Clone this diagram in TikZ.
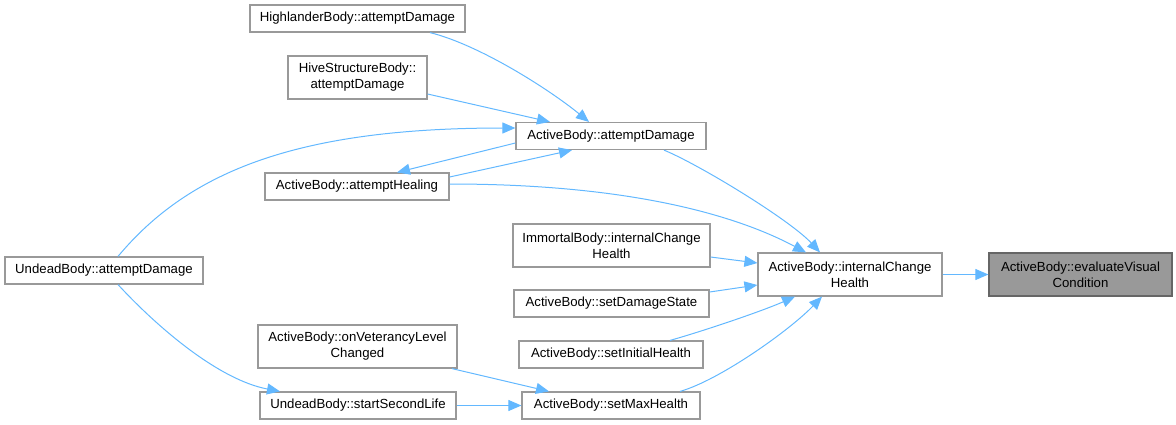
\documentclass[tikz,border=0pt]{standalone}
\usepackage{fontspec}
\setmainfont{Liberation Sans}
\usetikzlibrary{arrows.meta}
\definecolor{edgeblue}{HTML}{63B8FF}
\definecolor{boxgray}{HTML}{999999}
\definecolor{boxdark}{HTML}{666666}
\begin{document}
\begin{tikzpicture}[x=1pt, y=-1pt,
    every node/.style={rectangle,draw=boxgray,line width=1.2pt,fill=white,
      minimum height=27pt,inner sep=0pt,align=center,
      font=\fontsize{13.2}{16}\selectfont},
    call/.style={draw=edgeblue,line width=1pt,-{Triangle[length=13pt,width=11pt]}}]
            \useasboundingbox (0,0) rectangle (1176,424);
            \node[minimum width=215pt] (hl) at (357.5,18.5) {HighlanderBody::attemptDamage};
            \node[minimum width=139pt,minimum height=43pt] (hive) at (357.5,77.5) {HiveStructureBody::\\attemptDamage};
            \node[minimum width=190pt] (ad) at (611,136) {ActiveBody::attemptDamage};
            \node[minimum width=184pt] (ah) at (357,186.5) {ActiveBody::attemptHealing};
            \node[minimum width=198pt] (uad) at (104,270.5) {UndeadBody::attemptDamage};
            \node[minimum width=197pt,minimum height=43pt] (imm) at (611.5,245.5) {ImmortalBody::internalChange\\Health};
            \node[minimum width=195pt] (sds) at (611.5,303.5) {ActiveBody::setDamageState};
            \node[minimum width=184pt] (sih) at (611,354.5) {ActiveBody::setInitialHealth};
            \node[minimum width=178pt] (smh) at (611,405.5) {ActiveBody::setMaxHealth};
            \node[minimum width=199pt,minimum height=43pt] (ovl) at (357.5,346.5) {ActiveBody::onVeterancyLevel\\Changed};
            \node[minimum width=196pt] (ssl) at (358,405.5) {UndeadBody::startSecondLife};
            \node[minimum width=184pt,minimum height=43pt] (ich) at (850,274.5) {ActiveBody::internalChange\\Health};
            \node[minimum width=183pt,minimum height=43pt,fill=boxgray,draw=boxdark] (evc) at (1080.5,274.5) {ActiveBody::evaluateVisual\\Condition};
            % Calls into internalChangeHealth
            \draw[call] (ich) -- (evc);
            \draw[call] ([xshift=53pt]ad.south) .. controls (700,165) and (790,220) .. ([xshift=-30pt]ich.north);
            \draw[call] ([yshift=2.5pt]ah.east) .. controls (620,184) and (730,212) .. ([xshift=-44pt]ich.north);
            \draw[call] ([yshift=-11.5pt]imm.east) -- ([yshift=11.5pt]ich.west);
            \draw[call] ([yshift=11.5pt]sds.east) -- ([yshift=-10.5pt]ich.west);
            \draw[call] ([xshift=59pt]sih.north) .. controls (700,332) and (760,312) .. ([xshift=-55pt]ich.south);
            \draw[call] ([xshift=69pt]smh.north) .. controls (720,380) and (790,330) .. ([xshift=-28pt]ich.south);
            % Calls into attemptDamage
            \draw[call] ([xshift=72.5pt]hl.south) .. controls (480,45) and (550,90) .. ([xshift=-22pt]ad.north);
            \draw[call] ([yshift=-16.5pt]hive.east) -- ([xshift=-61pt]ad.north);
            \draw[call] ([xshift=14pt]uad.north) .. controls (190,170) and (300,128) .. ([yshift=8pt]ad.west);
            \draw[call] ([yshift=9.5pt]ah.east) -- ([xshift=-39pt]ad.south);
            \draw[call] ([yshift=-7pt]ad.west) -- ([xshift=40pt]ah.north);
            % Calls into setMaxHealth
            \draw[call] ([xshift=14pt]uad.south) .. controls (160,330) and (220,380) .. ([xshift=-78pt]ssl.north);
            \draw[call] ([xshift=94.5pt]ovl.south) -- ([xshift=-62pt]smh.north);
            \draw[call] (ssl) -- (smh);
          \end{tikzpicture}
\end{document}
